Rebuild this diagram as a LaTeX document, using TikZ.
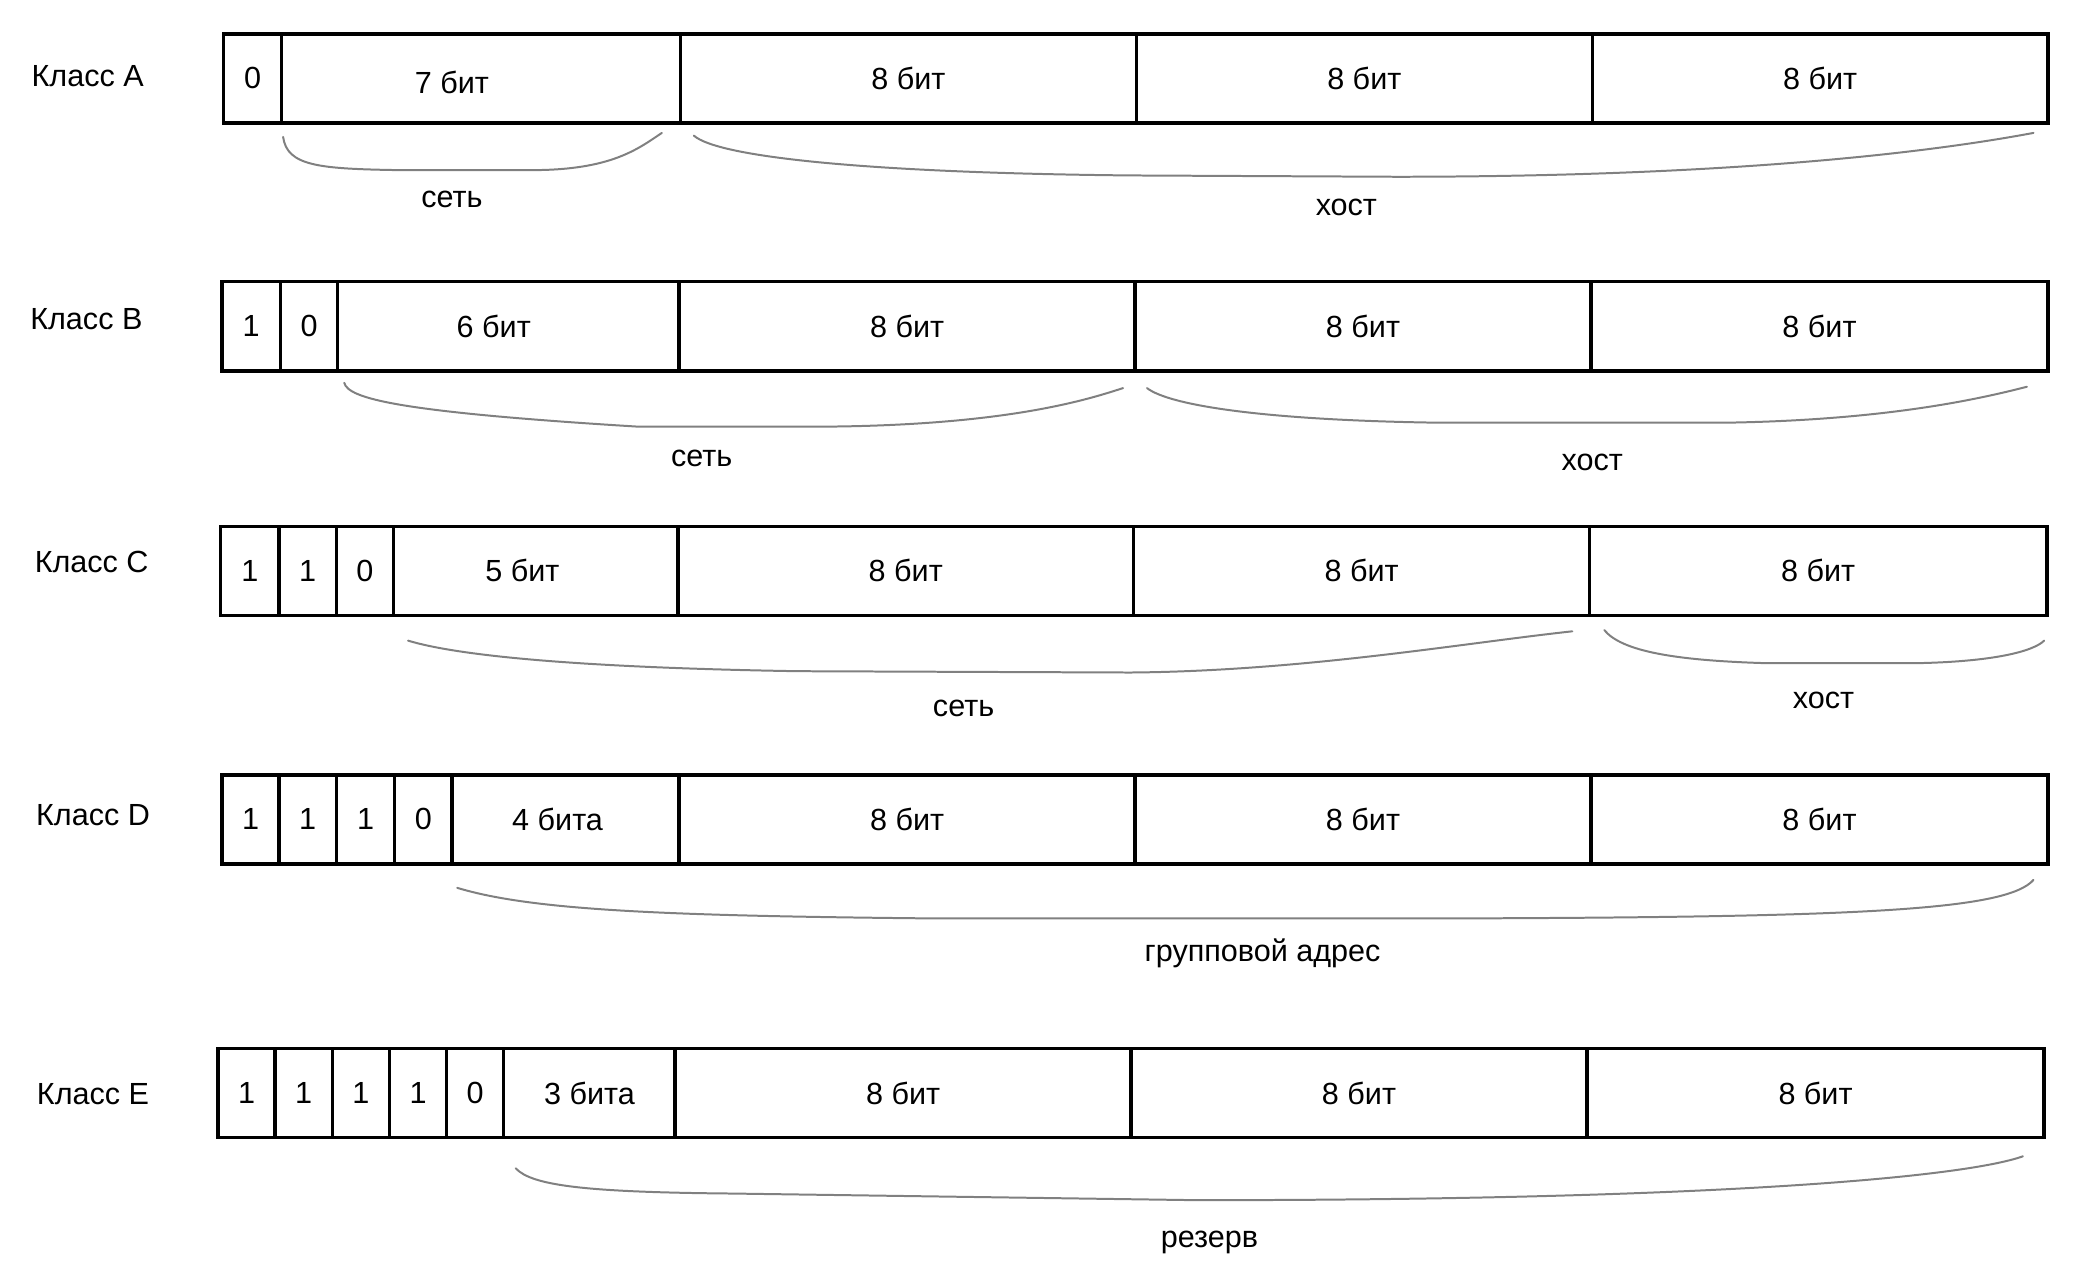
\documentclass[tikz,border=0pt]{standalone}
\usepackage{fontspec}
\setmainfont{Liberation Sans}
\usetikzlibrary{positioning}

\begin{document}
\begin{tikzpicture}[
    x=1pt, y=-1pt,
    every node/.style={font=\fontsize{23}{27}\selectfont},
    cell/.style={
      draw=black, line width=2.6pt, rectangle,
      minimum height=67pt, inner sep=0pt, outer sep=0pt,
      anchor=west,
    },
    bit/.style={cell, minimum width=43pt},
    byte/.style={cell, minimum width=343pt},
    cls/.style={anchor=center},
    brace/.style={draw=gray, line width=1.5pt, line join=round, line cap=round},
    part/.style={anchor=center},
]
\useasboundingbox (0,0) rectangle (1568,966);

% Class A
\node[cls] (clsA) at (66,57) {Класс A};
\node[bit, minimum width=44pt] (a1) at (168,59) {0};
\node[cell, minimum width=300pt, right=0pt of a1,
      label={[xshift=-22pt, yshift=-3pt]center:7 бит}] (a2) {};
\node[byte, right=0pt of a2] (a3) {8 бит};
\node[byte, right=0pt of a3] (a4) {8 бит};
\node[byte, right=0pt of a4] (a5) {8 бит};

\draw[brace] (213,103) .. controls (216,125) and (240,127) .. (300,128)
    -- (400,128) .. controls (460,128) and (480,112) .. (498,100);
\draw[brace] (522,102) .. controls (540,118) and (650,130) .. (850,132)
    -- (1050,133) .. controls (1300,133) and (1450,115) .. (1530,100);
\node[part] (netA) at (340,150) {сеть};
\node[part] (hostA) at (1013,156) {хост};

% Class B
\node[cls] (clsB) at (65,240) {Класс B};
\node[bit, minimum width=44pt] (b1) at (167,245.5) {1};
\node[bit, right=0pt of b1] (b2) {0};
\node[cell, minimum width=257pt, right=0pt of b2,
      label={[xshift=-11pt]center:6 бит}] (b3) {};
\node[byte, right=0pt of b3] (b4) {8 бит};
\node[byte, right=0pt of b4] (b5) {8 бит};
\node[byte, minimum width=344pt, right=0pt of b5] (b6) {8 бит};

\draw[brace] (259,288) .. controls (262,300) and (300,310) .. (480,321)
    -- (620,321) .. controls (760,320) and (820,300) .. (845,292);
\draw[brace] (863,292) .. controls (880,305) and (950,316) .. (1080,318)
    -- (1300,318) .. controls (1420,316) and (1490,300) .. (1525,291);
\node[part] (netB) at (528,345) {сеть};
\node[part] (hostB) at (1198,348) {хост};

% Class C
\node[cls] (clsC) at (69,423) {Класс C};
\node[bit, minimum width=44pt] (c1) at (166,429.5) {1};
\node[bit, right=0pt of c1] (c2) {1};
\node[bit, right=0pt of c2] (c3) {0};
\node[cell, minimum width=214pt, right=0pt of c3,
      label={[xshift=-10pt]center:5 бит}] (c4) {};
\node[byte, right=0pt of c4] (c5) {8 бит};
\node[byte, right=0pt of c5] (c6) {8 бит};
\node[byte, minimum width=344pt, right=0pt of c6] (c7) {8 бит};

\draw[brace] (307,482) .. controls (340,492) and (420,502) .. (600,505)
    -- (850,506) .. controls (980,505) and (1100,484) .. (1183,475);
\draw[brace] (1207,474) .. controls (1220,490) and (1260,497) .. (1330,499)
    -- (1440,499) .. controls (1500,498) and (1530,490) .. (1538,482);
\node[part] (netC) at (725,533) {сеть};
\node[part] (hostC) at (1372,527) {хост};

% Class D
\node[cls] (clsD) at (70,613) {Класс D};
\node[bit] (d1) at (167,616.5) {1};
\node[bit, right=0pt of d1] (d2) {1};
\node[bit, minimum width=44pt, right=0pt of d2] (d3) {1};
\node[bit, right=0pt of d3] (d4) {0};
\node[cell, minimum width=171pt, right=0pt of d4,
      label={[xshift=-6pt]center:4 бита}] (d5) {};
\node[byte, right=0pt of d5] (d6) {8 бит};
\node[byte, right=0pt of d6] (d7) {8 бит};
\node[byte, minimum width=344pt, right=0pt of d7] (d8) {8 бит};

\draw[brace] (344,668) .. controls (400,685) and (500,689) .. (700,691)
    -- (1100,691) .. controls (1400,690) and (1510,685) .. (1530,662);
\node[part] (groupD) at (950,717) {групповой адрес};

% Class E
\node[cls] (clsE) at (70,823) {Класс E};
\node[bit] (e1) at (164,822.5) {1};
\node[bit, right=0pt of e1] (e2) {1};
\node[bit, right=0pt of e2] (e3) {1};
\node[bit, right=0pt of e3] (e4) {1};
\node[bit, right=0pt of e4] (e5) {0};
\node[cell, minimum width=129pt, right=0pt of e5] (e6) {3 бита};
\node[byte, right=0pt of e6] (e7) {8 бит};
\node[byte, right=0pt of e7] (e8) {8 бит};
\node[byte, minimum width=344pt, right=0pt of e8] (e9) {8 бит};

\draw[brace] (388,879) .. controls (400,892) and (440,897) .. (550,898)
    -- (900,903) .. controls (1300,903) and (1480,885) .. (1522,870);
\node[part] (resE) at (910,935) {резерв};
\end{tikzpicture}
\end{document}
